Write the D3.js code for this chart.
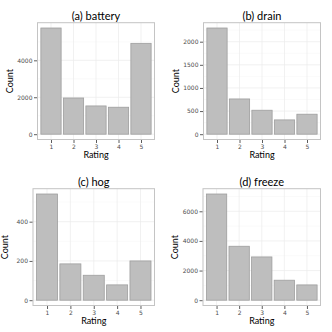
<!DOCTYPE html>
<html>
<head>
<meta charset="utf-8">
<script src="https://cdn.jsdelivr.net/npm/d3@7"></script>
<style>
  body { margin: 0; background: #fff; }
  svg { display: block; }
</style>
</head>
<body>
<div id="chart"></div>
<script>
// ratings shared by all four facets
const ratings = [1, 2, 3, 4, 5];

const titles = ["(a) battery", "(b) drain", "(c) hog", "(d) freeze"];

const batteryCounts = [5750, 1960, 1530, 1460, 4920];
const drainCounts = [2296, 762, 518, 309, 432];
const hogCounts = [541, 185, 127, 78, 200];
const freezeCounts = [7166, 3640, 2919, 1348, 1031];

const batteryTicks = [0, 2000, 4000];
const drainTicks = [0, 500, 1000, 1500, 2000];
const hogTicks = [0, 200, 400];
const freezeTicks = [0, 2000, 4000, 6000];

const panels = [
    {title: titles[0], counts: batteryCounts, ticks: batteryTicks, col: 0, row: 0, left: 37.5},
    {title: titles[1], counts: drainCounts, ticks: drainTicks, col: 1, row: 0, left: 37.5},
    {title: titles[2], counts: hogCounts, ticks: hogTicks, col: 0, row: 1, left: 33},
    {title: titles[3], counts: freezeCounts, ticks: freezeTicks, col: 1, row: 1, left: 37}
];

const W = 332, H = 332, cell = 166;
const panelRight = 154.5, panelTop = 22.7, panelBottom = 139.5;
const textFont = "Lato, 'Open Sans', sans-serif";

const svg = d3.select("#chart").append("svg")
    .attr("width", W)
    .attr("height", H);

function drawPanel(p) {
    const g = svg.append("g")
        .attr("transform", `translate(${p.col*cell},${p.row*cell})`);
    const pw = panelRight - p.left, ph = panelBottom - panelTop;

    // ggplot-style discrete x: 0.6 expansion on each side
    const x = d3.scaleLinear().domain([0.4, 5.6]).range([p.left, panelRight]);
    const maxV = d3.max(p.counts);
    const y = d3.scaleLinear().domain([-0.05*maxV, maxV*1.05]).range([panelBottom, panelTop]);

    g.append("rect")
        .attr("x", p.left).attr("y", panelTop)
        .attr("width", pw).attr("height", ph)
        .attr("fill", "#fff");

    // minor grid
    const step = p.ticks[1]-p.ticks[0];
    const minorY = p.ticks.map(t => t+step/2).filter(v => y(v) > panelTop);
    g.selectAll(".minorY").data(minorY).enter().append("line")
        .attr("x1", p.left).attr("x2", panelRight)
        .attr("y1", d => y(d)).attr("y2", d => y(d))
        .attr("stroke", "#f4f4f4").attr("stroke-width", 0.5);
    // major grid
    g.selectAll(".majorY").data(p.ticks).enter().append("line")
        .attr("x1", p.left).attr("x2", panelRight)
        .attr("y1", d => y(d)).attr("y2", d => y(d))
        .attr("stroke", "#ebebeb").attr("stroke-width", 0.7);
    g.selectAll(".majorX").data(ratings).enter().append("line")
        .attr("y1", panelTop).attr("y2", panelBottom)
        .attr("x1", d => x(d)).attr("x2", d => x(d))
        .attr("stroke", "#ebebeb").attr("stroke-width", 0.7);

    // bars
    g.selectAll(".bar").data(ratings).enter().append("rect")
        .attr("class", "bar")
        .attr("x", d => x(d-0.45))
        .attr("width", d => x(d+0.45)-x(d-0.45))
        .attr("y", (d,i) => y(p.counts[i]))
        .attr("height", (d,i) => y(0)-y(p.counts[i]))
        .attr("fill", "#bebebe")
        .attr("stroke", "#9e9e9e")
        .attr("stroke-width", 0.8);

    // panel border
    g.append("rect")
        .attr("x", p.left).attr("y", panelTop)
        .attr("width", pw).attr("height", ph)
        .attr("fill", "none")
        .attr("stroke", "#c4c4c4").attr("stroke-width", 1);

    // axes
    const yAxis = g.append("g")
        .attr("transform", `translate(${p.left-0.5},0)`)
        .call(d3.axisLeft(y).tickValues(p.ticks).tickSize(3).tickPadding(1.5).tickFormat(d3.format("d")));
    const xAxis = g.append("g")
        .attr("transform", `translate(0,${panelBottom+0.5})`)
        .call(d3.axisBottom(x).tickValues(ratings).tickSize(3).tickPadding(1.5).tickFormat(d3.format("d")));
    [xAxis, yAxis].forEach(a => {
        a.select(".domain").remove();
        a.selectAll(".tick line").attr("stroke", "#333").attr("stroke-width", 0.8);
        a.selectAll("text")
            .attr("fill", "#4d4d4d")
            .style("font-family", "'DejaVu Sans', sans-serif")
            .style("font-size", "6px");
    });

    // titles
    g.append("text")
        .attr("x", (p.left+panelRight)/2).attr("y", 19.5)
        .attr("text-anchor", "middle")
        .style("font-family", textFont).style("font-size", "11px")
        .attr("fill", "#000")
        .text(p.title);
    g.append("text")
        .attr("x", (p.left+panelRight)/2).attr("y", 158)
        .attr("text-anchor", "middle")
        .style("font-family", textFont).style("font-size", "9px")
        .attr("fill", "#000")
        .text("Rating");
    g.append("text")
        .attr("transform", `translate(${p.left-25},${(panelTop+panelBottom)/2}) rotate(-90)`)
        .attr("text-anchor", "middle")
        .style("font-family", textFont).style("font-size", "9px")
        .attr("fill", "#000")
        .text("Count");
}

panels.forEach(drawPanel);
</script>
</body>
</html>
